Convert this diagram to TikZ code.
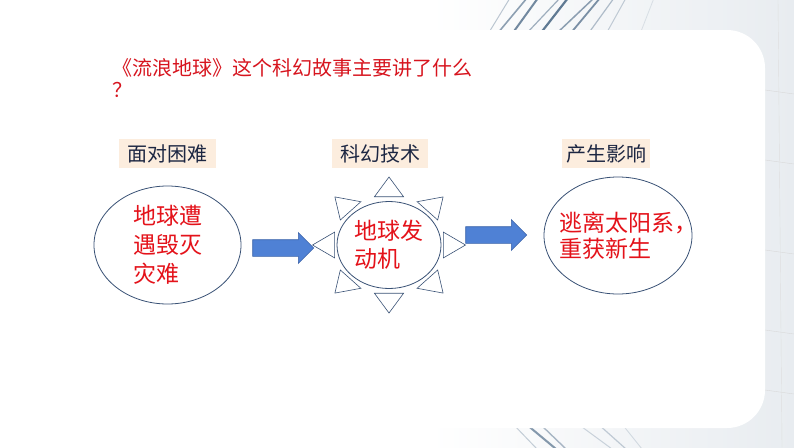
\documentclass[tikz,border=0pt]{standalone}
\usepackage{fontspec}
\setmainfont{Noto Sans CJK SC}
\usepackage{xcolor}
\usepackage{tikz}
\usetikzlibrary{shapes.geometric,shapes.arrows,positioning}

\definecolor{titlered}{RGB}{215,20,30}
\definecolor{textred}{RGB}{228,18,26}
\definecolor{inkblue}{RGB}{28,38,66}
\definecolor{tagfill}{RGB}{252,237,222}
\definecolor{rimblue}{RGB}{58,82,118}
\definecolor{arrowfill}{RGB}{79,129,213}
\definecolor{arrowrim}{RGB}{58,98,168}
\definecolor{streak}{RGB}{70,100,130}
\definecolor{backgray}{RGB}{232,236,240}

\begin{document}
\begin{tikzpicture}[x=1pt,y=-1pt,
  tag/.style={fill=tagfill, text=inkblue, minimum width=97pt, minimum height=29pt,
    inner sep=0pt, font=\fontsize{20}{22}\selectfont},
  oval/.style={ellipse, draw=rimblue, line width=0.8pt, inner sep=0pt},
  say/.style={text=textred, align=left, inner sep=0pt, font=\fontsize{23}{#1}\selectfont},
  push/.style={single arrow, single arrow head extend=7pt, inner xsep=0pt, inner ysep=8pt,
    minimum height=61pt, fill=arrowfill, draw=arrowrim, line width=0.6pt},
  ray/.style={draw=rimblue, fill=white, line width=0.6pt}
]
% slide background
\useasboundingbox (0,0) rectangle (794,447);
\fill[white] (0,0) rectangle (794,447);
\shade[left color=white, right color=backgray] (430,0) rectangle (794,447);
\foreach \xa/\dx/\op/\lw in {488/22/0.35/1,497/30/0.6/1.6,512/26/0.75/2,526/34/0.5/1.2,
    540/28/0.85/2.2,556/38/0.6/1.5,570/30/0.7/1.8,588/26/0.4/1.2,606/20/0.3/1,640/14/0.15/0.8}
  \draw[streak, opacity=\op, line width=\lw pt] (\xa,34) -- (\xa+\dx,-2);
\foreach \xa/\dx/\op/\lw in {513/24/0.3/1,526/30/0.65/2,540/26/0.45/1.4,
    578/34/0.25/1,598/28/0.3/1.2,622/20/0.2/0.8}
  \draw[streak, opacity=\op, line width=\lw pt] (\xa,424) -- (\xa+\dx,449);
\foreach \ya in {90,160,250,330,390}
  \draw[gray!30] (765,\ya) -- (794,\ya+4);
\draw[gray!25] (778,0) -- (782,447);
\fill[white, rounded corners=38pt] (-60,30) rectangle (765,428);

% question
\node[anchor=north west, align=left, inner sep=0pt, text=titlered,
  font=\fontsize{20}{22}\selectfont] (question) at (112,58)
  {《流浪地球》这个科幻故事主要讲了什么\\？};

% three stages
\node[tag] (problem) at (167.5,153.5) {面对困难};
\node[tag, minimum width=96pt] (tech) at (380,153.5) {科幻技术};
\node[tag, minimum width=88pt] (effect) at (606,153.5) {产生影响};

\node[oval, say=29, minimum width=147pt, minimum height=118pt] (hard) at (167.5,245) {地球遭\\遇毁灭\\灾难};

\node[oval, say=28, minimum width=104pt, minimum height=87pt] (engine) at (389,245) {地球发\\动机};
\foreach \a in {0,45,...,315}
  \draw[ray, shift={(engine.center)}, x=76.5pt, y=68pt]
    (\a:1) -- (\a+15:0.735) -- (\a-15:0.735) -- cycle;

\node[oval, minimum width=148pt, minimum height=117pt] (fate) at (618,235.5) {};
\node[say=26, anchor=west] (fatetext) at (559,236) {逃离太阳系，\\重获新生};

% arrows between stages
\node[push, right=11pt of hard, yshift=-3pt] (push1) {};
\node[push, right=1pt of engine.east, xshift=23pt, yshift=10pt] (push2) {};
\end{tikzpicture}
\end{document}
